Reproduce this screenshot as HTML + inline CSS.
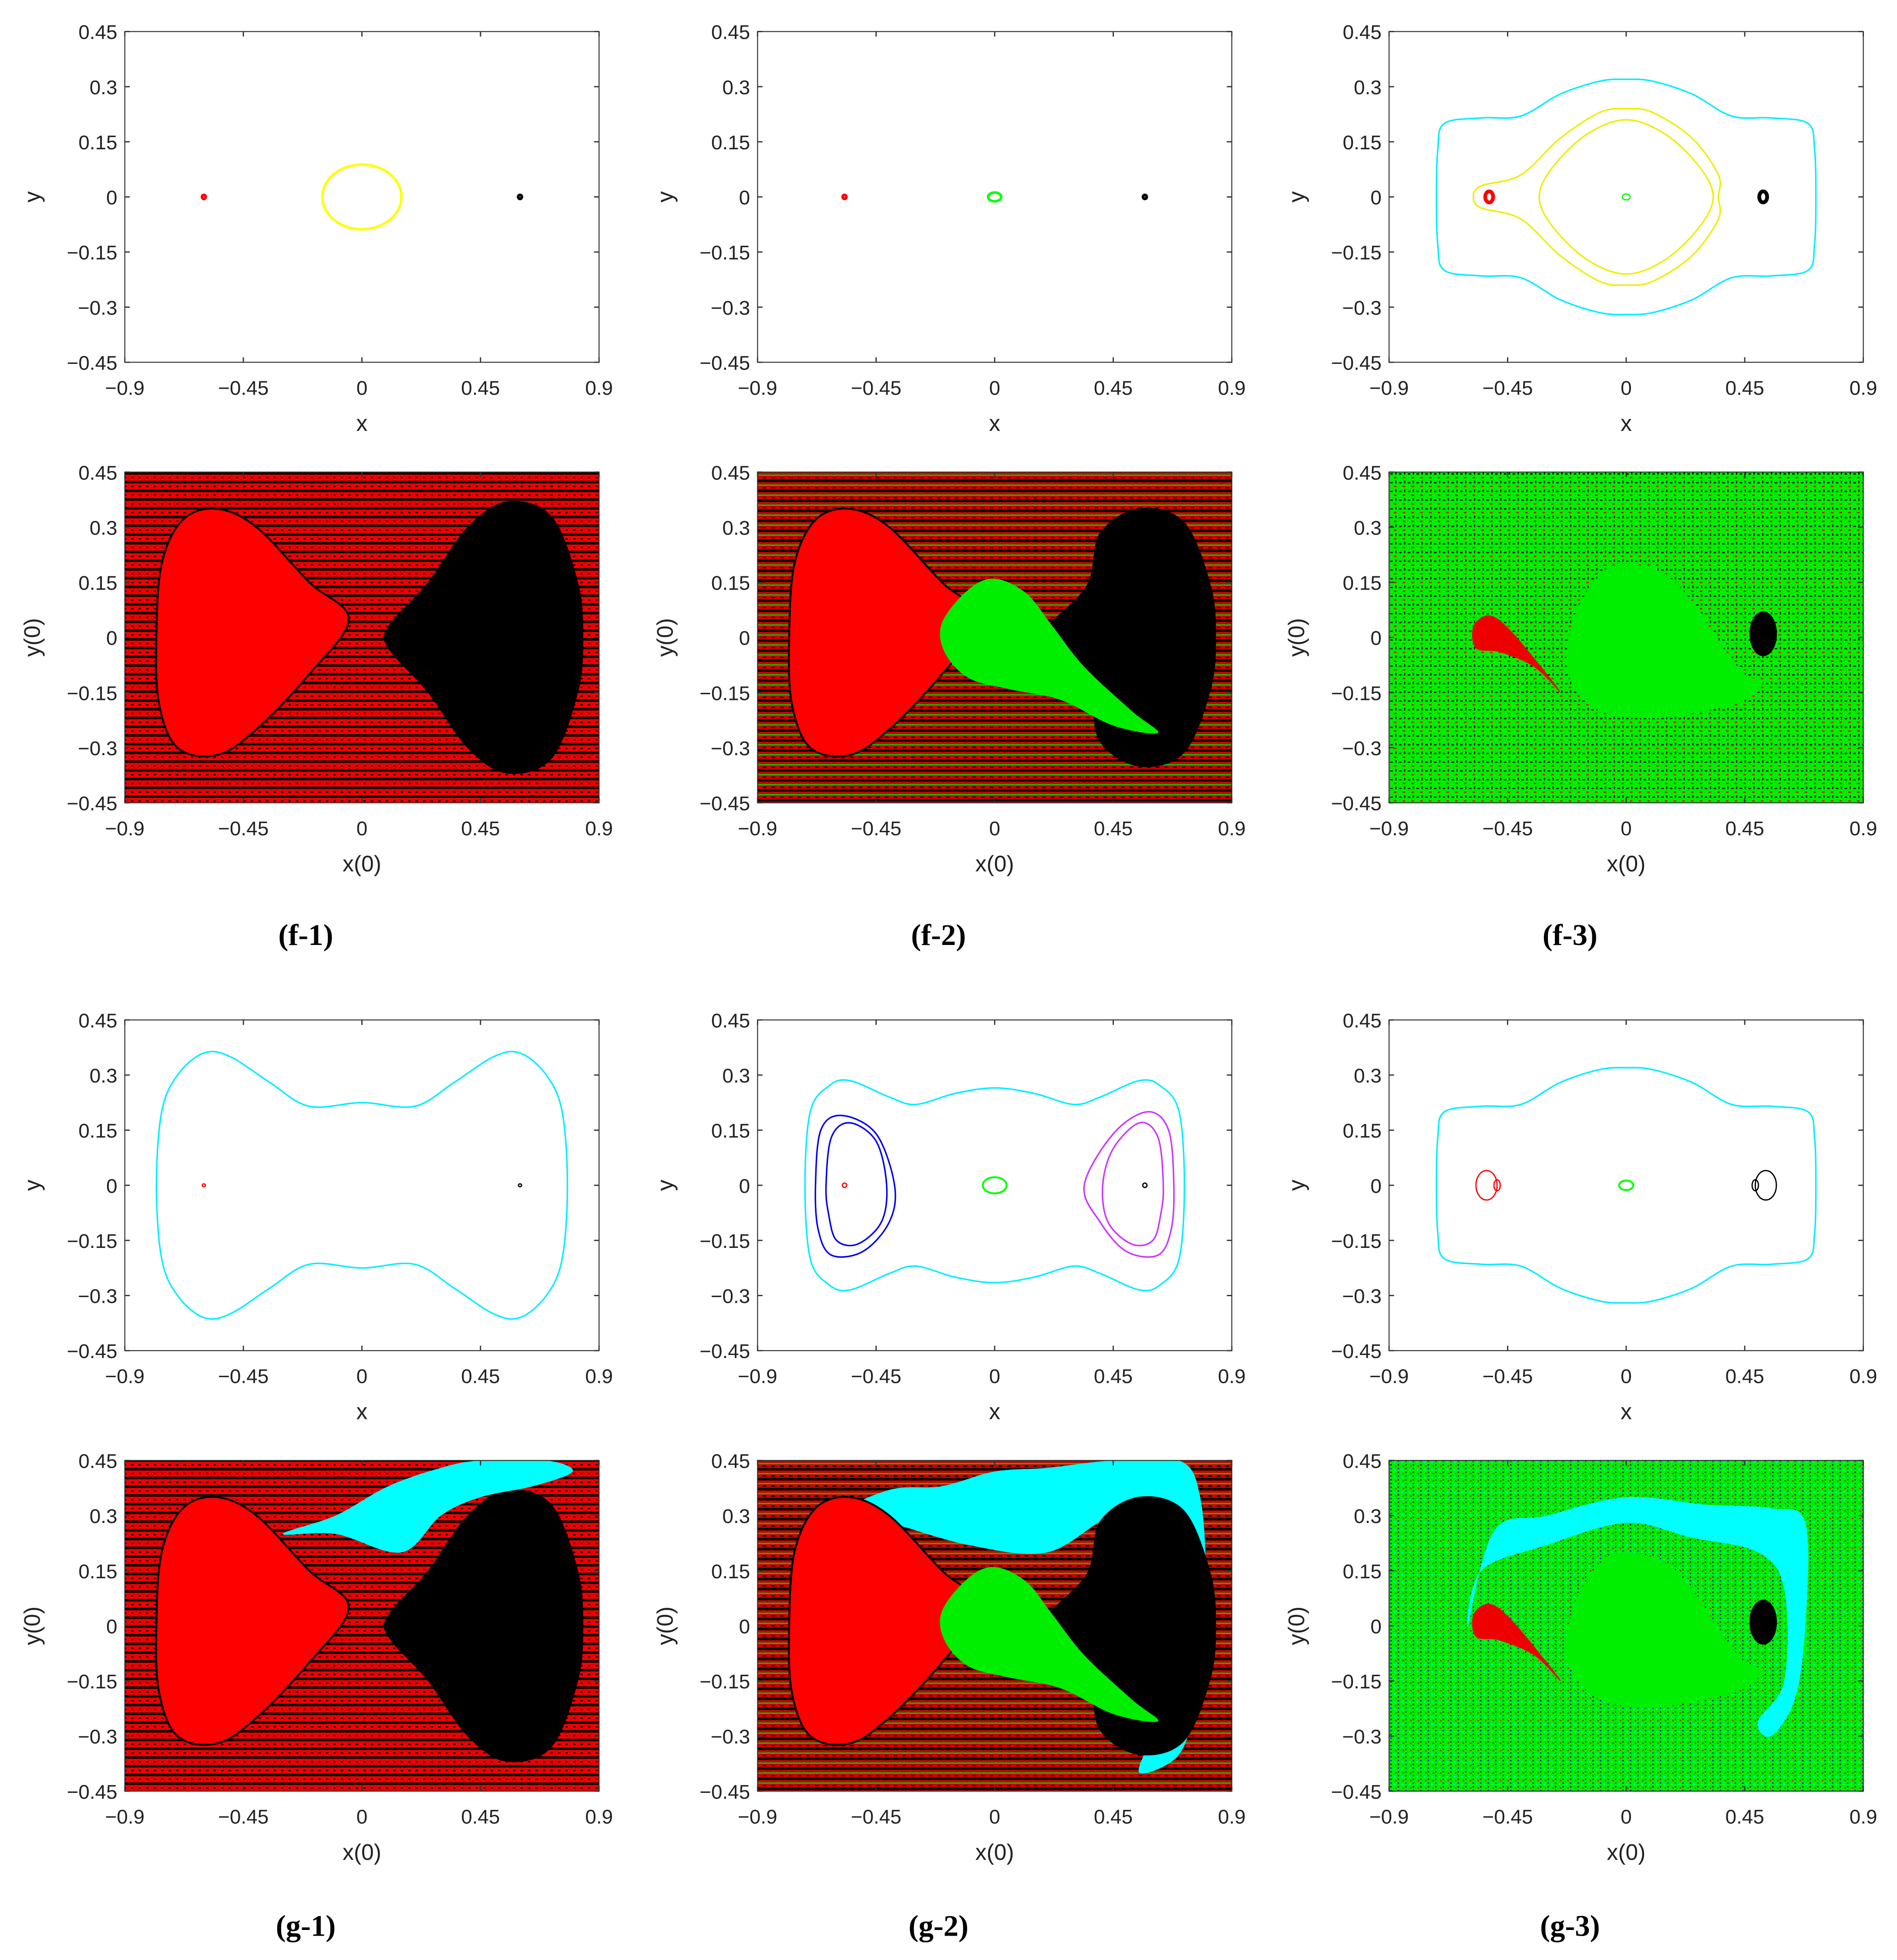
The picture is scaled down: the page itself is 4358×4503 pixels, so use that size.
<!DOCTYPE html>
<html><head><meta charset="utf-8">
<style>
html,body{margin:0;padding:0;background:#fff;}
svg{display:block;}
text{font-family:"Liberation Sans",Arial,sans-serif;}
</style></head>
<body>
<svg id="fig" width="4358" height="4503" viewBox="0 0 1520 1570" xmlns="http://www.w3.org/2000/svg">
<defs>
<pattern id="chaosRB" width="6" height="7" patternUnits="userSpaceOnUse">
<rect width="6" height="7" fill="#e00"/><rect y="0" width="6" height="2" fill="#000"/><rect x="3" y="4" width="2" height="1" fill="#000"/></pattern>
<pattern id="chaosRBG" width="7" height="8" patternUnits="userSpaceOnUse">
<rect width="7" height="8" fill="#c00"/><rect y="0" width="7" height="2" fill="#000"/><rect y="4" width="7" height="1" fill="#0c0"/><rect x="2" y="6" width="3" height="1" fill="#000"/></pattern>
<pattern id="chaosG" width="7" height="7" patternUnits="userSpaceOnUse">
<rect width="7" height="7" fill="#0e0"/><rect x="1" y="1" width="2" height="1" fill="#000"/><rect x="4" y="4" width="2" height="1" fill="#e00"/><rect x="5" y="0" width="1" height="2" fill="#000"/></pattern>
<pattern id="chaosGC" width="6" height="6" patternUnits="userSpaceOnUse">
<rect width="6" height="6" fill="#0e0"/><rect x="1" y="1" width="1" height="1" fill="#0ff"/><rect x="4" y="3" width="1" height="1" fill="#000"/><rect x="2" y="4" width="1" height="1" fill="#e00"/><rect x="4" y="0" width="1" height="1" fill="#00f"/></pattern>
</defs>
</svg>
<script>
const NS="http://www.w3.org/2000/svg";
const svg=document.getElementById('fig');
const xTicks=[-0.9,-0.45,0,0.45,0.9];
const yTicks=[0.45,0.3,0.15,0,-0.15,-0.3,-0.45];
const xTickLabels=["−0.9","−0.45","0","0.45","0.9"];
const yTickLabels=["0.45","0.3","0.15","0","−0.15","−0.3","−0.45"];
const colLefts=[100,607,1113];
const rowTops=[25,378,817,1170];
const W=380,H=265;
const captions=["f-1","f-2","f-3","g-1","g-2","g-3"];

const g1Outer=[[-0.78,0],[-0.76,0.2],[-0.7,0.3],[-0.6,0.36],[-0.5,0.35],[-0.35,0.28],[-0.2,0.215],[0,0.225],[0.2,0.215],[0.35,0.28],[0.5,0.35],[0.6,0.36],[0.7,0.3],[0.76,0.2],[0.78,0]];
const g2Outer=[[-0.72,0],[-0.7,0.2],[-0.63,0.27],[-0.55,0.285],[-0.4,0.24],[-0.3,0.22],[-0.15,0.25],[0,0.265],[0.15,0.25],[0.3,0.22],[0.4,0.24],[0.55,0.285],[0.63,0.27],[0.7,0.2],[0.72,0]];
const g3Outer=[[-0.72,0],[-0.715,0.13],[-0.69,0.2],[-0.55,0.215],[-0.4,0.22],[-0.25,0.28],[-0.1,0.315],[0,0.32],[0.1,0.315],[0.25,0.28],[0.4,0.22],[0.55,0.215],[0.69,0.2],[0.715,0.13],[0.72,0]];
const f3Outer=g3Outer;
const f3Yellow1=[[-0.33,0],[-0.28,0.08],[-0.15,0.17],[0,0.21],[0.15,0.17],[0.28,0.08],[0.33,0]];
const f3Yellow2=[[-0.58,0],[-0.55,0.03],[-0.4,0.06],[-0.25,0.16],[-0.1,0.23],[0,0.24],[0.1,0.23],[0.25,0.16],[0.35,0.06],[0.35,0]];
const g2Blue1=[[-0.68,0],[-0.66,0.15],[-0.58,0.19],[-0.45,0.14],[-0.38,0],[-0.4,-0.1],[-0.5,-0.18],[-0.62,-0.19],[-0.67,-0.12]];
const g2Blue2=[[-0.64,0],[-0.62,0.13],[-0.55,0.17],[-0.45,0.12],[-0.41,0],[-0.43,-0.1],[-0.52,-0.16],[-0.6,-0.15],[-0.63,-0.08]];
const g2Mag1=[[0.68,0],[0.66,0.15],[0.58,0.2],[0.45,0.14],[0.34,0],[0.4,-0.1],[0.5,-0.18],[0.62,-0.19],[0.67,-0.12]];
const g2Mag2=[[0.64,0],[0.62,0.13],[0.55,0.17],[0.45,0.1],[0.41,0],[0.43,-0.1],[0.52,-0.16],[0.6,-0.15],[0.63,-0.08]];
const ellipses=[[0,-0.6,0,0.005,0.004,"#f00",3],[0,0,0,0.15,0.088,"#ff0",2],[0,0.6,0,0.005,0.004,"#000",3],
[1,-0.57,0,0.005,0.004,"#f00",3],[1,0,0,0.025,0.012,"#0f0",2],[1,0.57,0,0.005,0.004,"#000",3],
[2,-0.52,0,0.015,0.015,"#f00",3],[2,0,0,0.015,0.008,"#0f0",1],[2,0.52,0,0.015,0.015,"#000",3],
[3,-0.6,0,0.006,0.004,"#f00",1],[3,0.6,0,0.006,0.004,"#000",1],
[4,-0.57,0,0.008,0.006,"#f00",1],[4,0,0,0.045,0.022,"#0f0",1.5],[4,0.57,0,0.008,0.006,"#000",1],
[5,-0.53,0,0.04,0.04,"#f00",1],[5,-0.49,0,0.012,0.015,"#f00",1],[5,0,0,0.027,0.013,"#0f0",1.5],[5,0.53,0,0.04,0.04,"#000",1],[5,0.49,0,0.012,0.015,"#000",1]];

const rightLobe=[[0.1,0.03],[0.25,0.15],[0.4,0.3],[0.55,0.37],[0.72,0.33],[0.82,0.15],[0.84,0],[0.82,-0.15],[0.72,-0.33],[0.55,-0.37],[0.4,-0.3],[0.25,-0.15],[0.1,-0.03]];
const leftLobe=[[-0.78,0],[-0.76,0.2],[-0.68,0.32],[-0.55,0.35],[-0.4,0.3],[-0.2,0.15],[-0.05,0.05],[-0.2,-0.1],[-0.4,-0.25],[-0.55,-0.32],[-0.7,-0.3],[-0.77,-0.18]];
const greenTear=[[-0.2,0.04],[-0.1,0.13],[0,0.16],[0.12,0.12],[0.22,0.03],[0.34,-0.08],[0.52,-0.2],[0.62,-0.26],[0.45,-0.24],[0.25,-0.17],[0.05,-0.14],[-0.1,-0.11],[-0.19,-0.04]];
const greenBig=[[-0.2,0.05],[-0.1,0.17],[0,0.2],[0.15,0.17],[0.27,0.08],[0.34,0],[0.45,-0.1],[0.52,-0.12],[0.45,-0.17],[0.3,-0.2],[0.1,-0.22],[-0.1,-0.2],[-0.22,-0.1]];
const redSmall=[[-0.58,0.03],[-0.52,0.06],[-0.44,0.02],[-0.3,-0.1],[-0.25,-0.15],[-0.35,-0.08],[-0.48,-0.04],[-0.57,-0.03]];
const cyanBand1=[[-0.3,0.25],[-0.1,0.3],[0.1,0.38],[0.3,0.43],[0.45,0.45],[0.7,0.45],[0.8,0.42],[0.65,0.38],[0.45,0.35],[0.3,0.3],[0.15,0.2],[-0.1,0.25]];
const cyanBand2=[[-0.6,0.3],[-0.4,0.37],[-0.2,0.38],[0,0.42],[0.2,0.43],[0.45,0.45],[0.7,0.45],[0.78,0.35],[0.8,0.1],[0.76,-0.2],[0.7,-0.35],[0.55,-0.4],[0.6,-0.3],[0.7,-0.15],[0.7,0.1],[0.65,0.28],[0.45,0.3],[0.2,0.2],[-0.1,0.22],[-0.4,0.28]];
const cyanBand3=[[-0.5,0.26],[-0.3,0.3],[0,0.35],[0.3,0.33],[0.55,0.32],[0.68,0.28],[0.68,0],[0.64,-0.2],[0.55,-0.3],[0.5,-0.26],[0.6,-0.15],[0.6,0.1],[0.5,0.2],[0.25,0.24],[0,0.28],[-0.3,0.22],[-0.55,0.15],[-0.6,0]];

function el(tag,attrs,name,inter,parent){const e=document.createElementNS(NS,tag);for(const k in attrs)e.setAttribute(k,attrs[k]);


(parent||svg).appendChild(e);return e;}
function panel(col,row){const L=colLefts[col],T=rowTops[row];return{L,T,sx:x=>L+(x+0.9)/1.8*W,sy:y=>T+(0.45-y)/0.9*H};}
function closedPath(P,pts,mirror){let all=pts.slice();if(mirror){for(let i=pts.length-2;i>0;i--)all.push([pts[i][0],-pts[i][1]]);}
const q=all.map(p=>[P.sx(p[0]),P.sy(p[1])]);const n=q.length;let d="M"+q[0][0]+","+q[0][1];
for(let i=0;i<n;i++){const p0=q[(i-1+n)%n],p1=q[i],p2=q[(i+1)%n],p3=q[(i+2)%n];
d+=` C${p1[0]+(p2[0]-p0[0])/6},${p1[1]+(p2[1]-p0[1])/6} ${p2[0]-(p3[0]-p1[0])/6},${p2[1]-(p3[1]-p1[1])/6} ${p2[0]},${p2[1]}`;}return d+"Z";}
function clipFor(P,id){const c=el('clipPath',{id},'clip-'+id,false,svg.querySelector('defs'));el('rect',{x:P.L,y:P.T,width:W,height:H},'clip-rect',false,c);return `url(#${id})`;}
function axes(P,xl,yl,name){
const g=el('g',{},name+'-axes',false);
el('rect',{x:P.L,y:P.T,width:W,height:H,fill:'none',stroke:'#333',"stroke-width":0.8},name+'-box',false,g);
xTicks.forEach((t,i)=>{const x=P.sx(t);
el('line',{x1:x,y1:P.T+H,x2:x,y2:P.T+H-4,stroke:'#333'},name+'-xtick',false,g);
el('line',{x1:x,y1:P.T,x2:x,y2:P.T+4,stroke:'#333'},name+'-xtick-top',false,g);
const tx=el('text',{x:x,y:P.T+H+26,"font-size":16,"text-anchor":"middle",fill:'#222'},name+'-xtick-label',false,g);tx.textContent=xTickLabels[i];});
yTicks.forEach((t,i)=>{const y=P.sy(t);
el('line',{x1:P.L,y1:y,x2:P.L+4,y2:y,stroke:'#333'},name+'-ytick',false,g);
el('line',{x1:P.L+W,y1:y,x2:P.L+W-4,y2:y,stroke:'#333'},name+'-ytick-right',false,g);
const ty=el('text',{x:P.L-6,y:y+6,"font-size":16,"text-anchor":"end",fill:'#222'},name+'-ytick-label',false,g);ty.textContent=yTickLabels[i];});
const xt=el('text',{x:P.L+W/2,y:P.T+H+55,"font-size":18,"text-anchor":"middle",fill:'#222'},name+'-x-axis-title',false,g);xt.textContent=xl;
const yt=el('text',{x:0,y:0,"font-size":18,"text-anchor":"middle",fill:'#222',transform:`translate(${P.L-68},${P.T+H/2}) rotate(-90)`},name+'-y-axis-title',false,g);yt.textContent=yl;}
function curve(P,pts,mirror,color,w,name){el('path',{d:closedPath(P,pts,mirror),fill:'none',stroke:color,"stroke-width":w},name,false);}
function region(P,pts,fill,name,clip,stroke){el('path',{d:closedPath(P,pts,false),fill:fill,stroke:stroke||'none',"stroke-width":1.5,"clip-path":clip},name,false);}

const phaseRows=[[0,0],[1,0],[2,0],[0,2],[1,2],[2,2]];
phaseRows.forEach((cr,i)=>{const P=panel(cr[0],cr[1]);axes(P,'x','y','phase-'+captions[i]);
ellipses.filter(e=>e[0]===i).forEach(e=>{el('ellipse',{cx:P.sx(e[1]),cy:P.sy(e[2]),rx:e[3]/1.8*W,ry:e[4]/0.9*H,fill:'none',stroke:e[5],"stroke-width":e[6]},'orbit-'+captions[i],false);});});
{const P=panel(2,0);curve(P,f3Outer,true,'#0ef',1.2,'orbit-cyan-f3');curve(P,f3Yellow1,true,'#ee0',1.2,'orbit-yellow-f3-a');curve(P,f3Yellow2,true,'#ee0',1.2,'orbit-yellow-f3-b');}
{const P=panel(0,2);curve(P,g1Outer,true,'#0ef',1.2,'orbit-cyan-g1');}
{const P=panel(1,2);curve(P,g2Outer,true,'#0ef',1.2,'orbit-cyan-g2');curve(P,g2Blue1,false,'#00e',1.2,'orbit-blue-g2-a');curve(P,g2Blue2,false,'#00e',1.2,'orbit-blue-g2-b');curve(P,g2Mag1,false,'#c3f',1.2,'orbit-magenta-g2-a');curve(P,g2Mag2,false,'#c3f',1.2,'orbit-magenta-g2-b');}
{const P=panel(2,2);curve(P,g3Outer,true,'#0ef',1.2,'orbit-cyan-g3');}

const basins=[[0,1,'url(#chaosRB)'],[1,1,'url(#chaosRBG)'],[2,1,'url(#chaosG)'],[0,3,'url(#chaosRB)'],[1,3,'url(#chaosRBG)'],[2,3,'url(#chaosGC)']];
basins.forEach((b,i)=>{const P=panel(b[0],b[1]);const id='cl'+i;const clip=clipFor(P,id);
el('rect',{x:P.L,y:P.T,width:W,height:H,fill:b[2]},'basin-background-'+captions[i],false);
if(i===0||i===3){region(P,leftLobe,'#f00','basin-red-lobe',clip,'#000');region(P,rightLobe,'#000','basin-black-lobe',clip);
if(i===3){region(P,cyanBand1,'#0ff','basin-cyan-band',clip);}}
if(i===1||i===4){if(i===4)region(P,cyanBand2,'#0ff','basin-cyan-band',clip);
region(P,leftLobe,'#f00','basin-red-lobe',clip,'#000');region(P,rightLobe.map(p=>[p[0]<0.4?p[0]+0.1:p[0],p[1]*0.95]),'#000','basin-black-lobe',clip);region(P,greenTear,'#0e0','basin-green-lobe',clip);}
if(i===2||i===5){if(i===5)region(P,cyanBand3,'#0ff','basin-cyan-band',clip);
region(P,greenBig,'#0e0','basin-green-lobe',clip);region(P,redSmall,'#e00','basin-red-lobe',clip);
el('ellipse',{cx:P.sx(0.52),cy:P.sy(0.01),rx:11,ry:18,fill:'#000'},'basin-black-lobe',false);}
axes(P,'x(0)','y(0)','basin-'+captions[i]);});

captions.forEach((c,i)=>{const t=el('text',{x:colLefts[i%3]+145,y:i<3?757:1551,"font-size":24,"font-weight":"bold","text-anchor":"middle",fill:'#000',style:'font-family:"Liberation Serif",serif'},'caption-'+c,false);t.textContent='('+c+')';});
</script>
</body></html>
